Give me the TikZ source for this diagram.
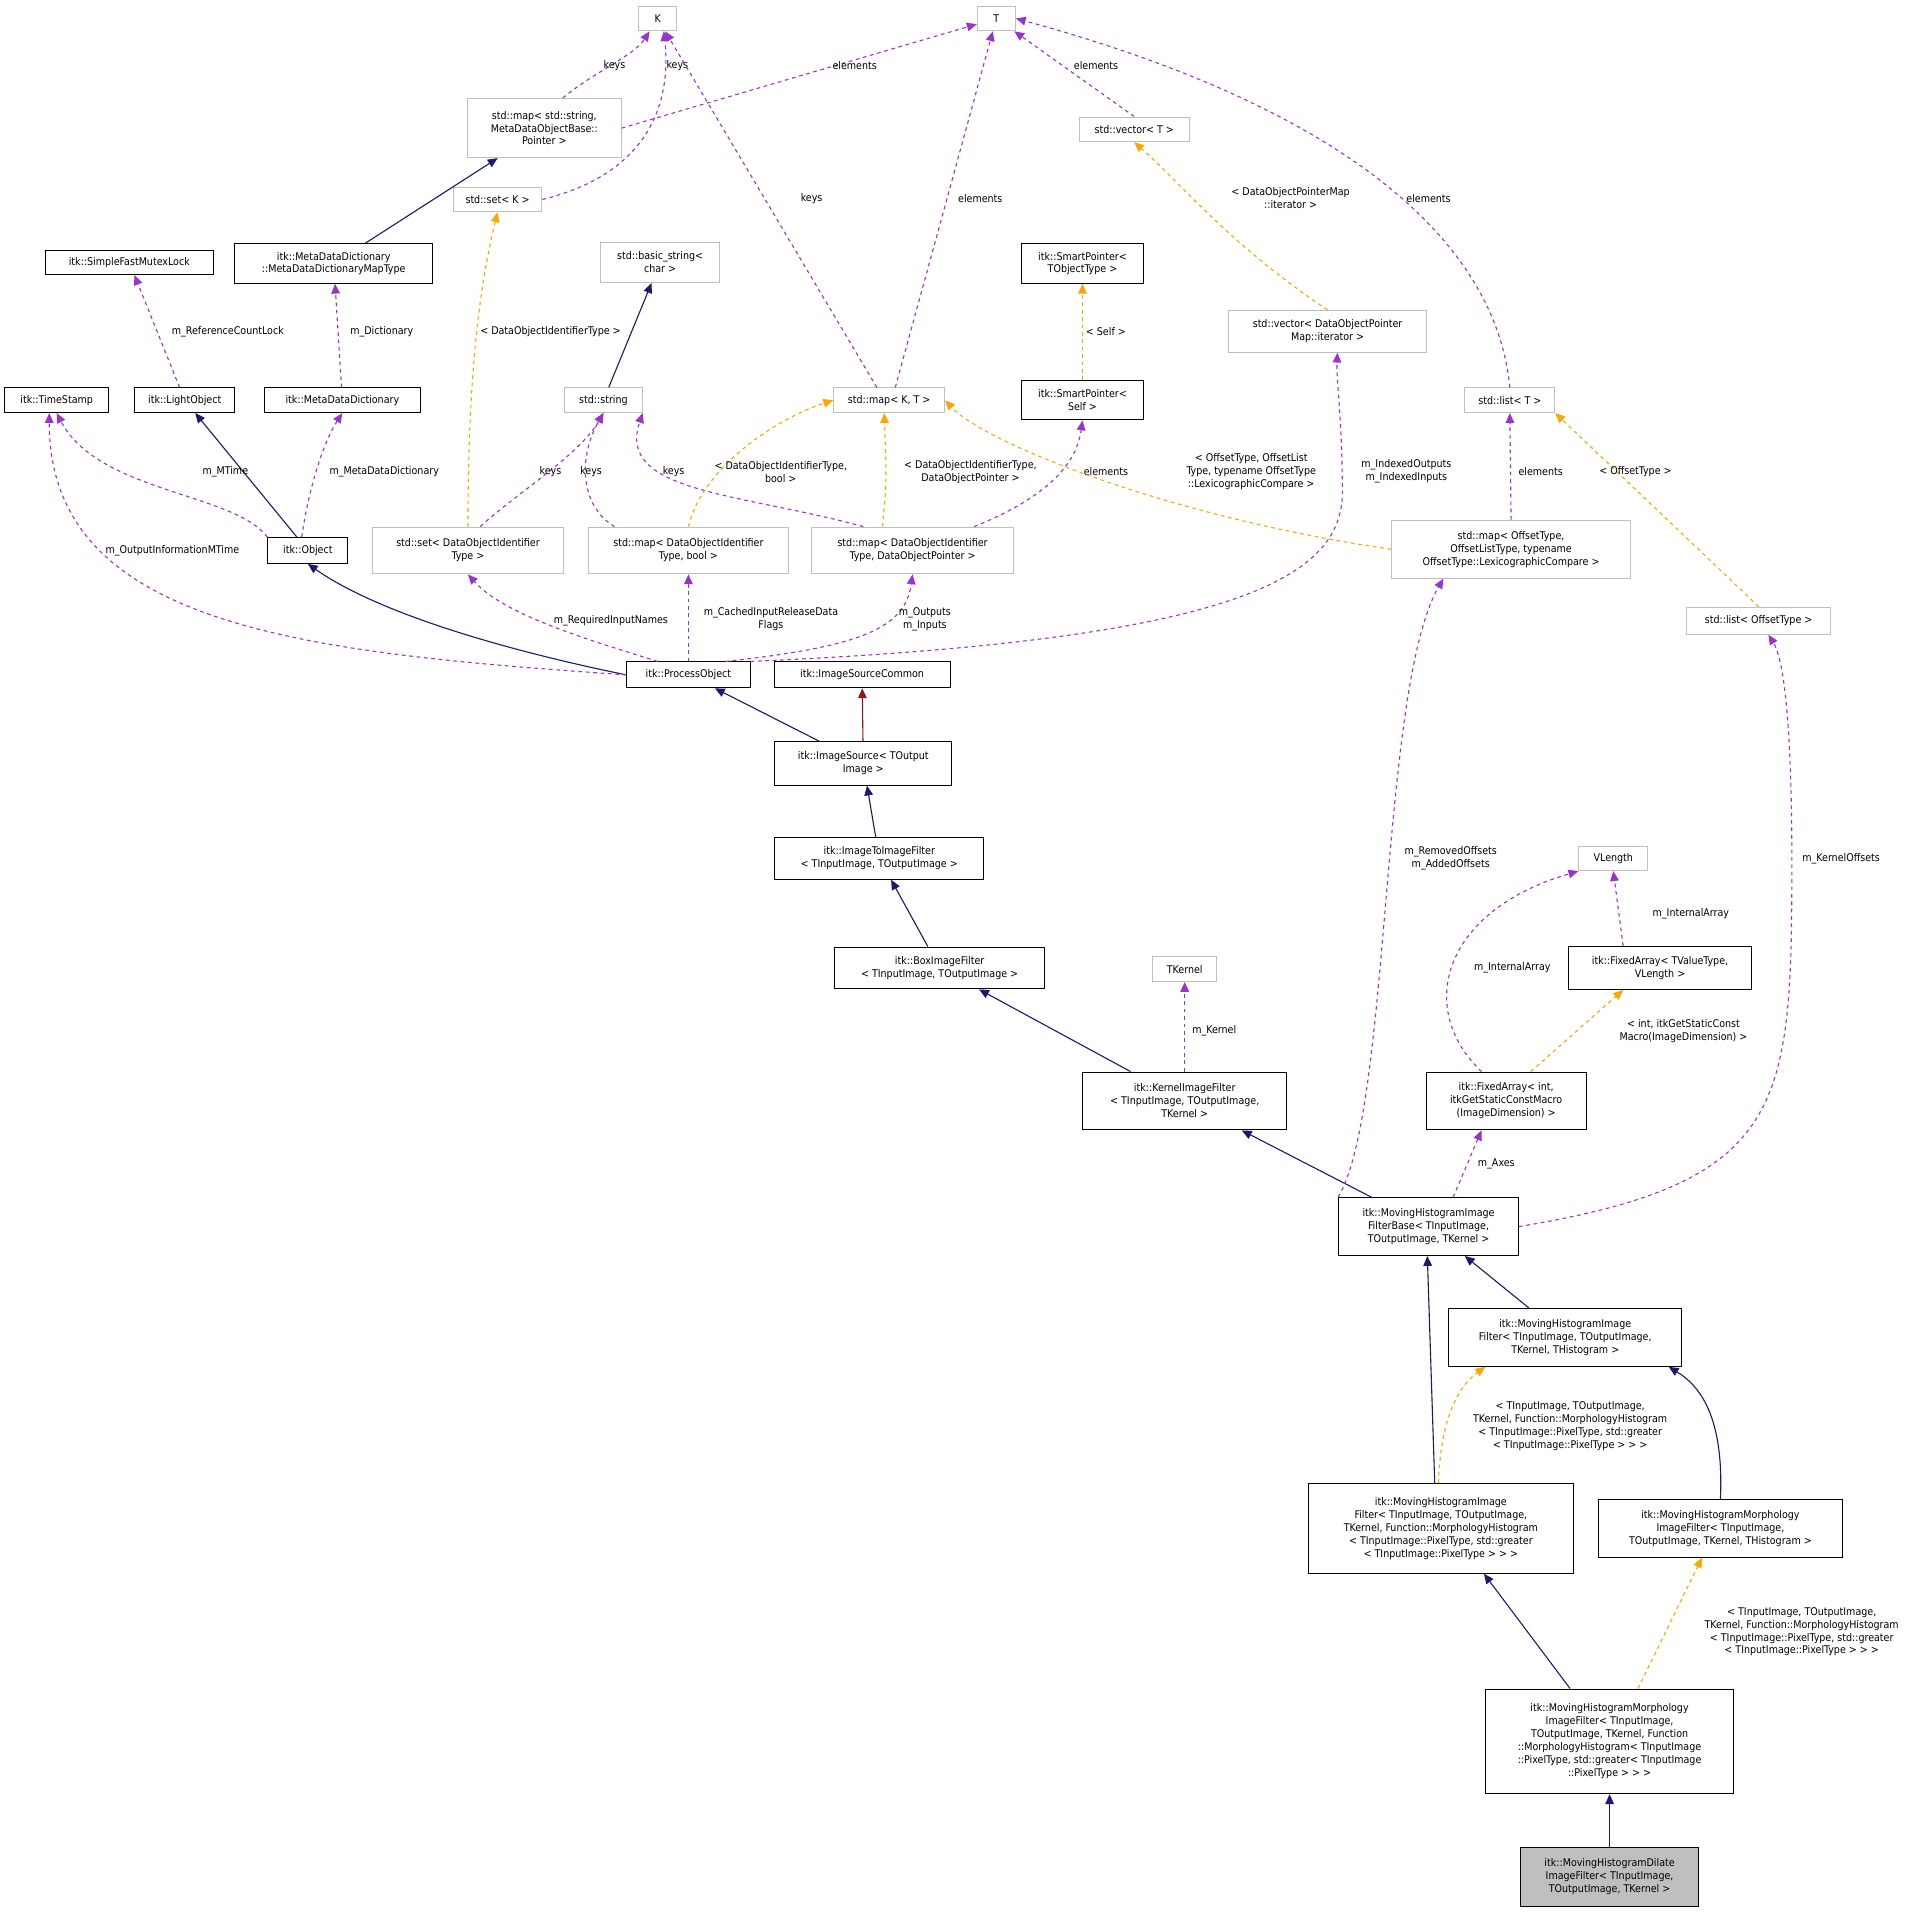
\documentclass[tikz,border=0pt]{standalone}
\usepackage{fontspec}
\setmainfont{DejaVu Sans Condensed}
\usetikzlibrary{arrows.meta}
\definecolor{nv}{RGB}{25,25,112}
\definecolor{pu}{RGB}{154,50,205}
\definecolor{og}{RGB}{255,165,0}
\definecolor{dr}{RGB}{139,26,26}
\definecolor{gb}{RGB}{191,191,191}
\begin{document}
\begin{tikzpicture}[x=1pt,y=-1pt,font=\fontsize{8.6}{10.5}\selectfont,
 bx/.style={draw=black,align=center,inner sep=1pt,line width=0.8pt},
 gx/.style={draw=gb,align=center,inner sep=1pt,line width=0.8pt},
 inh/.style={draw=nv,line width=0.9pt,-{Triangle[length=8pt,width=7pt]}},
 inr/.style={draw=dr,line width=0.9pt,-{Triangle[length=8pt,width=7pt]}},
 usg/.style={draw=pu,dashed,line width=0.9pt,-{Triangle[length=8pt,width=7pt]}},
 tpl/.style={draw=og,dashed,line width=0.9pt,-{Triangle[length=8pt,width=7pt]}},
 lb/.style={align=center,inner sep=0pt}]
\useasboundingbox (0,0) rectangle (1568,1555);
\def\B#1#2#3#4#5#6#7{\node[#1,minimum width=#5,minimum height=#6] (#2) at (#3,#4) {#7};}
\B{gx}{K}{534}{15}{31}{20}{K}
\B{gx}{T}{809}{15}{31}{20}{T}
\B{gx}{ms}{442}{104}{125}{48}{std::map< std::string,\\MetaDataObjectBase::\\Pointer >}
\B{gx}{sk}{404}{162}{72}{20}{std::set< K >}
\B{gx}{vt}{921}{105}{89}{20}{std::vector< T >}
\B{bx}{sfm}{105}{213}{136}{20}{itk::SimpleFastMutexLock}
\B{bx}{mdm}{271}{214}{161}{32}{itk::MetaDataDictionary\\::MetaDataDictionaryMapType}
\B{gx}{bs}{536}{213}{97}{33}{std::basic\_string<\\char >}
\B{bx}{spt}{879}{214}{99}{32}{itk::SmartPointer<\\TObjectType >}
\B{gx}{vdi}{1078}{269}{161}{34}{std::vector< DataObjectPointer\\Map::iterator >}
\B{bx}{ts}{46}{325}{85}{20}{itk::TimeStamp}
\B{bx}{lo}{150}{325}{81}{20}{itk::LightObject}
\B{bx}{md}{278}{325}{127}{20}{itk::MetaDataDictionary}
\B{gx}{ss}{490}{325}{63}{20}{std::string}
\B{gx}{mkt}{722}{325}{90}{20}{std::map< K, T >}
\B{bx}{sps}{879}{325}{99}{32}{itk::SmartPointer<\\Self >}
\B{gx}{lt}{1226}{325}{73}{20}{std::list< T >}
\B{bx}{obj}{250}{447}{65}{21}{itk::Object}
\B{gx}{sdoi}{380}{447}{155}{38}{std::set< DataObjectIdentifier\\Type >}
\B{gx}{mdb}{559}{447}{163}{38}{std::map< DataObjectIdentifier\\Type, bool >}
\B{gx}{mdd}{741}{447}{164}{38}{std::map< DataObjectIdentifier\\Type, DataObjectPointer >}
\B{gx}{mot}{1227}{446}{194}{47}{std::map< OffsetType,\\OffsetListType, typename\\OffsetType::LexicographicCompare >}
\B{gx}{lot}{1428}{504}{117}{22}{std::list< OffsetType >}
\B{bx}{po}{559}{548}{100}{21}{itk::ProcessObject}
\B{bx}{isc}{700}{548}{143}{21}{itk::ImageSourceCommon}
\B{bx}{is}{701}{620}{144}{35}{itk::ImageSource< TOutput\\Image >}
\B{bx}{itif}{714}{697}{170}{34}{itk::ImageToImageFilter\\< TInputImage, TOutputImage >}
\B{bx}{bif}{763}{786}{171}{34}{itk::BoxImageFilter\\< TInputImage, TOutputImage >}
\B{gx}{tk}{962}{787}{52}{20}{TKernel}
\B{gx}{vl}{1310}{697}{56}{20}{VLength}
\B{bx}{fav}{1348}{786}{149}{35}{itk::FixedArray< TValueType,\\VLength >}
\B{bx}{kif}{962}{894}{166}{47}{itk::KernelImageFilter\\< TInputImage, TOutputImage,\\TKernel >}
\B{bx}{fai}{1223}{894}{130}{47}{itk::FixedArray< int,\\itkGetStaticConstMacro\\(ImageDimension) >}
\B{bx}{mhb}{1160}{996}{146}{47}{itk::MovingHistogramImage\\FilterBase< TInputImage,\\TOutputImage, TKernel >}
\B{bx}{mht}{1271}{1086}{189}{47}{itk::MovingHistogramImage\\Filter< TInputImage, TOutputImage,\\TKernel, THistogram >}
\B{bx}{mhm}{1170}{1241}{215}{73}{itk::MovingHistogramImage\\Filter< TInputImage, TOutputImage,\\TKernel, Function::MorphologyHistogram\\< TInputImage::PixelType, std::greater\\< TInputImage::PixelType > > >}
\B{bx}{mmt}{1397}{1241}{198}{47}{itk::MovingHistogramMorphology\\ImageFilter< TInputImage,\\TOutputImage, TKernel, THistogram >}
\B{bx}{mmf}{1307}{1414}{201}{85}{itk::MovingHistogramMorphology\\ImageFilter< TInputImage,\\TOutputImage, TKernel, Function\\::MorphologyHistogram< TInputImage\\::PixelType, std::greater< TInputImage\\::PixelType > > >}
\node[bx,fill=gb,minimum width=145,minimum height=48] (dil) at (1307,1524) {itk::MovingHistogramDilate\\ImageFilter< TInputImage,\\TOutputImage, TKernel >};
% inheritance
\draw[inh] (mdm) -- (ms);
\draw[inh] (ss) -- (bs);
\draw[inh] (obj) -- (lo);
\draw[inh] (po.west) .. controls (420,530) and (310,500) .. (obj.south);
\draw[inh] (is) -- (po);
\draw[inr] (is) -- (isc);
\draw[inh] (itif) -- (is);
\draw[inh] (bif) -- (itif);
\draw[inh] (kif) -- (bif);
\draw[inh] (mhb) -- (kif);
\draw[inh] (mht) -- (mhb);
\draw[inh] ([xshift=-5]mhm.north) -- ([xshift=-1]mhb.south);
\draw[inh] (mmt.north) .. controls (1400,1150) and (1380,1125) .. ([xshift=84]mht.south);
\draw[inh] (mmf) -- ([xshift=35]mhm.south);
\draw[inh] (dil) -- (mmf);
% usage
\draw[usg] ([xshift=15]ms.north) .. controls (480,60) and (515,45) .. (K);
\node[lb] at (499,53) {keys};
\draw[usg] (ms.east) -- (T);
\node[lb] at (694,53) {elements};
\draw[usg] (sk.east) .. controls (530,140) and (545,80) .. ([xshift=5]K.south);
\node[lb] at (550,53) {keys};
\draw[usg] ([xshift=-10]mkt.north) -- (K);
\node[lb] at (659,161) {keys};
\draw[usg] ([xshift=5]mkt.north) -- (T);
\node[lb] at (796,161) {elements};
\draw[usg] (vt.north) -- (T);
\node[lb] at (890,53) {elements};
\draw[usg] (lt.north) .. controls (1215,200) and (1100,90) .. (T.east);
\node[lb] at (1160,161) {elements};
\draw[usg] (lo) -- (sfm);
\node[lb] at (185,269) {m\_ReferenceCountLock};
\draw[usg] (md) -- (mdm);
\node[lb] at (310,269) {m\_Dictionary};
\draw[usg] (obj.north west) .. controls (190,400) and (80,400) .. (ts.south);
\node[lb] at (183,383) {m\_MTime};
\draw[usg] ([xshift=-5]obj.north) .. controls (250,400) and (262,360) .. (md.south);
\node[lb] at (312,383) {m\_MetaDataDictionary};
\draw[usg] (po.west) .. controls (250,530) and (40,510) .. ([xshift=-6]ts.south);
\node[lb] at (140,447) {m\_OutputInformationMTime};
\draw[usg] ([xshift=-25]po.north) .. controls (480,520) and (410,500) .. (sdoi.south);
\node[lb] at (496,504) {m\_RequiredInputNames};
\draw[usg] (po.north) -- (mdb.south);
\node[lb] at (626,503) {m\_CachedInputReleaseData\\Flags};
\draw[usg] ([xshift=30]po.north) .. controls (700,525) and (735,510) .. (mdd.south);
\node[lb] at (751,503) {m\_Outputs\\m\_Inputs};
\draw[usg] (po.north east) .. controls (1000,520) and (1090,470) .. (1090,400) .. controls (1090,340) and (1085,310) .. ([xshift=8]vdi.south);
\node[lb] at (1142,383) {m\_IndexedOutputs\\m\_IndexedInputs};
\draw[usg] ([xshift=10]sdoi.north) .. controls (420,400) and (470,370) .. (ss.south);
\node[lb] at (447,383) {keys};
\draw[usg] ([xshift=-60]mdb.north) .. controls (470,410) and (470,370) .. (ss.south);
\node[lb] at (480,383) {keys};
\draw[usg] ([xshift=-40]mdd.north) .. controls (600,400) and (500,400) .. (ss.south east);
\node[lb] at (547,383) {keys};
\draw[usg] ([xshift=50]mdd.north) .. controls (860,400) and (875,370) .. (sps.south);
\node[lb] at (898,383) {elements};
\draw[usg] (mot.north) -- (lt.south);
\node[lb] at (1251,383) {elements};
\draw[usg] (mhb.north west) .. controls (1130,900) and (1120,560) .. ([xshift=-55]mot.south);
\node[lb] at (1178,697) {m\_RemovedOffsets\\m\_AddedOffsets};
\draw[usg] (mhb.east) .. controls (1450,960) and (1455,900) .. (1455,700) .. controls (1455,560) and (1445,530) .. ([xshift=8]lot.south);
\node[lb] at (1495,697) {m\_KernelOffsets};
\draw[usg] ([xshift=20]mhb.north) -- ([xshift=-20]fai.south);
\node[lb] at (1215,945) {m\_Axes};
\draw[usg] (kif.north) -- (tk.south);
\node[lb] at (986,837) {m\_Kernel};
\draw[usg] ([xshift=-20]fai.north) .. controls (1150,820) and (1170,740) .. (vl.south west);
\node[lb] at (1228,786) {m\_InternalArray};
\draw[usg] ([xshift=-30]fav.north) -- (vl.south);
\node[lb] at (1373,742) {m\_InternalArray};
% templates
\draw[tpl] (sps) -- (spt);
\node[lb] at (898,269) {< Self >};
\draw[tpl] (sdoi.north) .. controls (380,300) and (390,230) .. (sk.south);
\node[lb] at (447,269) {< DataObjectIdentifierType >};
\draw[tpl] (vdi.north) .. controls (1000,200) and (960,150) .. (vt.south);
\node[lb] at (1048,161) {< DataObjectPointerMap\\::iterator >};
\draw[tpl] (mdb.north) .. controls (570,380) and (630,340) .. (mkt.west);
\node[lb] at (634,383) {< DataObjectIdentifierType,\\bool >};
\draw[tpl] (mdd.north west) ++(58,0) .. controls (720,390) .. ([xshift=-4]mkt.south);
\node[lb] at (788,383) {< DataObjectIdentifierType,\\DataObjectPointer >};
\draw[tpl] (mot.west) .. controls (950,420) and (800,360) .. (mkt.east);
\node[lb] at (1016,383) {< OffsetType, OffsetList\\Type, typename OffsetType\\::LexicographicCompare >};
\draw[tpl] (lot.north) -- (lt.south east);
\node[lb] at (1328,383) {< OffsetType >};
\draw[tpl] ([xshift=20]fai.north) -- ([xshift=-30]fav.south);
\node[lb] at (1367,837) {< int, itkGetStaticConst\\Macro(ImageDimension) >};
\draw[tpl] ([xshift=-2]mhm.north) ++(0,0) .. controls (1170,1150) and (1185,1125) .. ([xshift=-65]mht.south);
\node[lb] at (1275,1158) {< TInputImage, TOutputImage,\\TKernel, Function::MorphologyHistogram\\< TInputImage::PixelType, std::greater\\< TInputImage::PixelType > > >};
\draw[tpl] ([xshift=23]mmf.north) -- ([xshift=-15]mmt.south);
\node[lb] at (1463,1325) {< TInputImage, TOutputImage,\\TKernel, Function::MorphologyHistogram\\< TInputImage::PixelType, std::greater\\< TInputImage::PixelType > > >};
\end{tikzpicture}
\end{document}
